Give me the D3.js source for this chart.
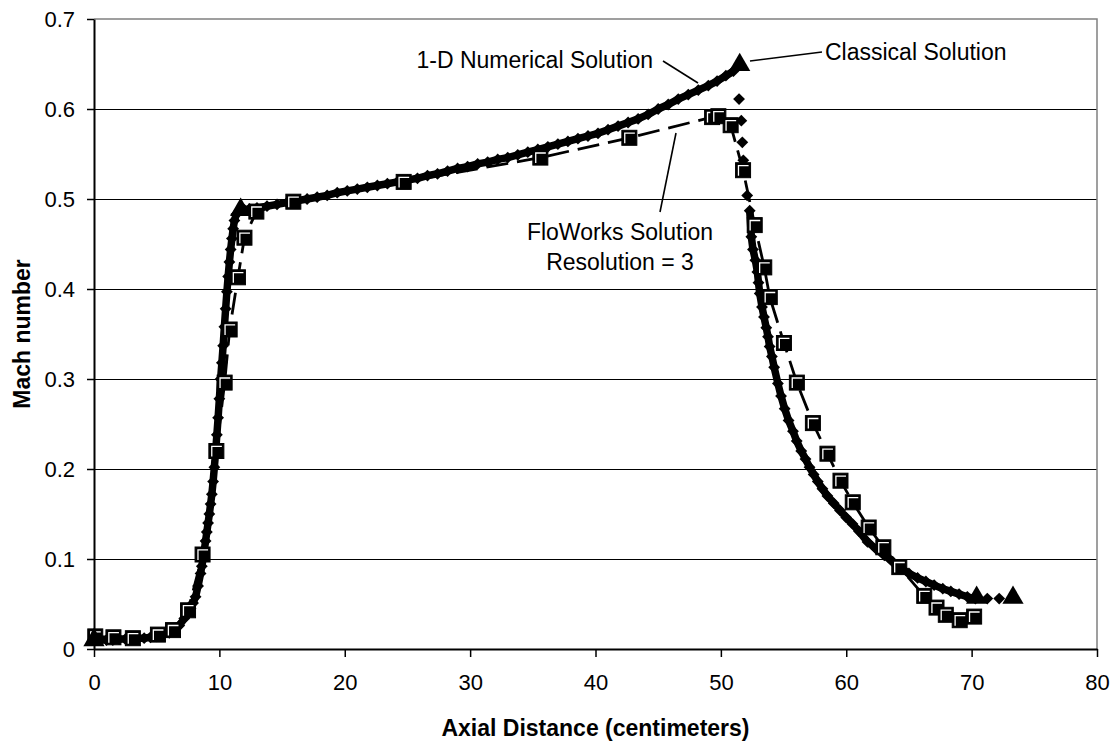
<!DOCTYPE html>
<html>
<head>
<meta charset="utf-8">
<script src="https://cdn.jsdelivr.net/npm/d3@7"></script>
<style>
  body { margin: 0; background: #fff; }
  svg text { font-family: "Liberation Sans", Arial, sans-serif; fill: #000; }
</style>
</head>
<body>
<svg id="chart" width="1111" height="741"></svg>
<script>
// 1-D numerical solution: dense run from inlet up to the shock
var numRiseX = [0, 0.5, 1, 1.5, 2, 2.5, 3, 3.5, 4, 4.5, 5, 5.5, 6, 6.4, 6.8, 7.2, 7.5, 7.7, 7.9, 8.1,
  8.3, 8.5, 8.6, 8.7, 8.8, 8.9, 9.0, 9.1, 9.2, 9.3, 9.4, 9.5, 9.6, 9.7, 9.8, 9.9, 10.0, 10.1, 10.2,
  10.3, 10.4, 10.5, 10.6, 10.7, 10.8, 10.9, 11.0, 11.1, 11.2, 11.35, 11.6, 12.0, 12.4, 13, 13.8,
  14.6, 15.4, 16.2, 17, 17.8, 18.6, 19.4, 20.2, 21, 21.8, 22.6, 23.4, 24.2, 25, 25.8, 26.6, 27.4,
  28.2, 29, 29.8, 30.6, 31.4, 32.2, 33, 33.8, 34.6, 35.4, 36.2, 37, 37.8, 38.6, 39.4, 40.2, 41,
  41.8, 42.6, 43.4, 44.2, 45, 45.8, 46.6, 47.4, 48.2, 49, 49.7, 50.4, 51.0];
var numRiseY = [0.010, 0.010, 0.010, 0.010, 0.011, 0.011, 0.011, 0.012, 0.012, 0.013, 0.014, 0.016,
  0.018, 0.020, 0.026, 0.034, 0.040, 0.045, 0.051, 0.058, 0.070, 0.084, 0.092, 0.100, 0.110, 0.120,
  0.130, 0.140, 0.150, 0.161, 0.172, 0.186, 0.202, 0.219, 0.238, 0.257, 0.278, 0.300, 0.318, 0.337,
  0.358, 0.378, 0.397, 0.414, 0.430, 0.444, 0.456, 0.467, 0.476, 0.483, 0.487, 0.488, 0.489, 0.490,
  0.492, 0.494, 0.496, 0.498, 0.500, 0.502, 0.504, 0.507, 0.509, 0.511, 0.513, 0.515, 0.517, 0.519,
  0.521, 0.523, 0.526, 0.528, 0.531, 0.534, 0.536, 0.539, 0.541, 0.544, 0.546, 0.549, 0.552, 0.555,
  0.558, 0.561, 0.564, 0.567, 0.570, 0.573, 0.577, 0.581, 0.585, 0.589, 0.594, 0.600, 0.605, 0.611,
  0.616, 0.621, 0.626, 0.631, 0.637, 0.642];

// isolated points through the shock
var numShockX = [51.45, 51.63, 51.71, 51.79, 52.10];
var numShockY = [0.611, 0.587, 0.563, 0.543, 0.504];

// dense run behind the shock down to the exit
var numFallX = [52.30, 52.43, 52.56, 52.75, 52.91, 53.00, 53.10, 53.28, 53.44, 53.62, 53.76, 53.89,
  54.07, 54.25, 54.55, 54.80, 55.09, 55.40, 55.75, 56.05, 56.41, 56.75, 57.07, 57.40, 57.73, 58.10,
  58.50, 59.00, 59.50, 60.00, 60.50, 61.00, 61.70, 62.40, 63.04, 63.70, 64.37, 65.00, 65.69, 66.35,
  67.01, 67.70, 68.34, 69.00, 69.66, 70.30];
var numFallY = [0.487, 0.458, 0.444, 0.432, 0.419, 0.407, 0.395, 0.380, 0.369, 0.357, 0.347, 0.336,
  0.325, 0.313, 0.295, 0.281, 0.267, 0.254, 0.242, 0.231, 0.220, 0.211, 0.202, 0.194, 0.186, 0.178,
  0.170, 0.162, 0.154, 0.146, 0.139, 0.131, 0.119, 0.111, 0.104, 0.097, 0.090, 0.084, 0.079, 0.075,
  0.071, 0.067, 0.064, 0.061, 0.058, 0.056];

var numTailX = [71.25, 72.2];
var numTailY = [0.056, 0.056];

// FloWorks solution, resolution 3
var floX = [0.1, 1.55, 3.1, 5.1, 6.3, 7.5, 8.66, 9.76, 10.42, 10.82, 11.48, 12.0, 12.95, 15.9, 24.7,
  35.6, 42.7, 49.3, 49.8, 50.78, 51.77, 52.7, 53.46, 53.9, 55.03, 56.06, 57.34, 58.5, 59.54, 60.52,
  61.79, 62.96, 64.23, 66.22, 67.2, 67.94, 69.05, 70.2];
var floY = [0.014, 0.013, 0.012, 0.016, 0.021, 0.043, 0.105, 0.220, 0.296, 0.355, 0.413, 0.457, 0.486,
  0.497, 0.519, 0.546, 0.568, 0.591, 0.592, 0.582, 0.532, 0.471, 0.424, 0.391, 0.340, 0.296, 0.251,
  0.217, 0.187, 0.163, 0.135, 0.113, 0.091, 0.059, 0.046, 0.038, 0.032, 0.036];

// classical solution
var classX = [0, 11.7, 51.5, 70.4, 73.3];
var classY = [0.010, 0.488, 0.649, 0.057, 0.057];

var xTicks = [0, 10, 20, 30, 40, 50, 60, 70, 80];
var yTicks = [0, 0.1, 0.2, 0.3, 0.4, 0.5, 0.6, 0.7];

var svg = d3.select("#chart");
var plotL = 94, plotR = 1097, plotT = 19, plotB = 649;

var x = d3.scaleLinear().domain([0, 80]).range([plotL, plotR]);
var y = d3.scaleLinear().domain([0, 0.7]).range([plotB, plotT]);

function pts(xs, ys) {
  return xs.map(function (d, i) { return [d, ys[i]]; });
}

// gridlines
svg.append("g").selectAll("line")
  .data(yTicks.slice(1, -1))
  .enter().append("line")
  .attr("x1", plotL).attr("x2", plotR)
  .attr("y1", function (d) { return Math.round(y(d)) + 0.5; })
  .attr("y2", function (d) { return Math.round(y(d)) + 0.5; })
  .attr("stroke", "#000").attr("stroke-width", 1)
  .attr("shape-rendering", "crispEdges");

// plot area border (top and right)
svg.append("path")
  .attr("d", "M" + plotL + "," + y(0.7) + "H" + plotR + "V" + plotB)
  .attr("fill", "none").attr("stroke", "#808080").attr("stroke-width", 1.5);

var line = d3.line()
  .x(function (d) { return x(d[0]); })
  .y(function (d) { return y(d[1]); });

var diamond = d3.symbol().type(d3.symbolSquare).size(70);

// numerical solution: dense diamond chains
[pts(numRiseX, numRiseY), pts(numFallX, numFallY)].forEach(function (run) {
  svg.append("path")
    .attr("d", line(run))
    .attr("fill", "none").attr("stroke", "#000")
    .attr("stroke-width", 7.5).attr("stroke-linejoin", "round");
});
var allNum = pts(numRiseX, numRiseY).concat(pts(numShockX, numShockY),
  pts(numFallX, numFallY), pts(numTailX, numTailY));
svg.append("g").selectAll("path")
  .data(allNum)
  .enter().append("path")
  .attr("d", diamond)
  .attr("transform", function (d) {
    return "translate(" + x(d[0]) + "," + y(d[1]) + ") rotate(45)";
  })
  .attr("fill", "#000");

// FloWorks: dashed line + squares
var flo = pts(floX, floY);
svg.append("path")
  .attr("d", line(flo))
  .attr("fill", "none").attr("stroke", "#000")
  .attr("stroke-width", 2.8).attr("stroke-dasharray", "22,9");

var sq = svg.append("g").selectAll("g")
  .data(flo)
  .enter().append("g")
  .attr("transform", function (d) { return "translate(" + x(d[0]) + "," + y(d[1]) + ")"; });
sq.append("rect")
  .attr("x", -7.5).attr("y", -7.5).attr("width", 15).attr("height", 15)
  .attr("fill", "#000").attr("stroke", "#000").attr("stroke-width", 1);
sq.append("path")
  .attr("d", "M-4.6,5.5V-4.6H5.5")
  .attr("fill", "none").attr("stroke", "#fff").attr("stroke-width", 1.3);

// classical triangles
svg.append("g").selectAll("path")
  .data(pts(classX, classY))
  .enter().append("path")
  .attr("d", d3.symbol().type(d3.symbolTriangle).size(195))
  .attr("transform", function (d) { return "translate(" + x(d[0]) + "," + y(d[1]) + ")"; })
  .attr("fill", "#000");

// axes
var yAxis = svg.append("g")
  .attr("transform", "translate(" + plotL + ",0)")
  .call(d3.axisLeft(y).tickValues(yTicks).tickSize(7).tickSizeOuter(0)
    .tickPadding(12).tickFormat(d3.format("~g")));
var xAxis = svg.append("g")
  .attr("transform", "translate(0," + plotB + ")")
  .call(d3.axisBottom(x).tickValues(xTicks).tickSize(8).tickSizeOuter(0)
    .tickPadding(17).tickFormat(d3.format("d")));
[xAxis, yAxis].forEach(function (a) {
  a.select(".domain").attr("stroke", "#000").attr("stroke-width", 2);
  a.selectAll(".tick line").attr("stroke", "#000").attr("stroke-width", 1.5);
  a.selectAll(".tick text").style("font-size", "22px")
    .style("font-family", "'Liberation Sans', Arial, sans-serif");
});

// axis titles
svg.append("text")
  .attr("x", (plotL + plotR) / 2).attr("y", 736)
  .attr("text-anchor", "middle")
  .style("font-size", "23px").style("font-weight", "bold")
  .text("Axial Distance (centimeters)");
svg.append("text")
  .attr("transform", "translate(30," + (plotT + plotB) / 2 + ") rotate(-90)")
  .attr("text-anchor", "middle")
  .style("font-size", "23px").style("font-weight", "bold")
  .text("Mach number");

// annotations with leader lines
function leader(x1, y1, x2, y2) {
  svg.append("line")
    .attr("x1", x1).attr("y1", y1).attr("x2", x2).attr("y2", y2)
    .attr("stroke", "#000").attr("stroke-width", 1.6);
}
svg.append("text").attr("x", 653).attr("y", 68).attr("text-anchor", "end")
  .style("font-size", "23px").text("1-D Numerical Solution");
leader(663, 61, 698, 83);

svg.append("text").attr("x", 825).attr("y", 60)
  .style("font-size", "23px").text("Classical Solution");
leader(750, 61, 822, 52);

svg.append("text").attr("x", 620).attr("y", 240).attr("text-anchor", "middle")
  .style("font-size", "23px").text("FloWorks Solution");
svg.append("text").attr("x", 620).attr("y", 270).attr("text-anchor", "middle")
  .style("font-size", "23px").text("Resolution = 3");
leader(676, 133, 660, 212);
</script>
</body>
</html>
